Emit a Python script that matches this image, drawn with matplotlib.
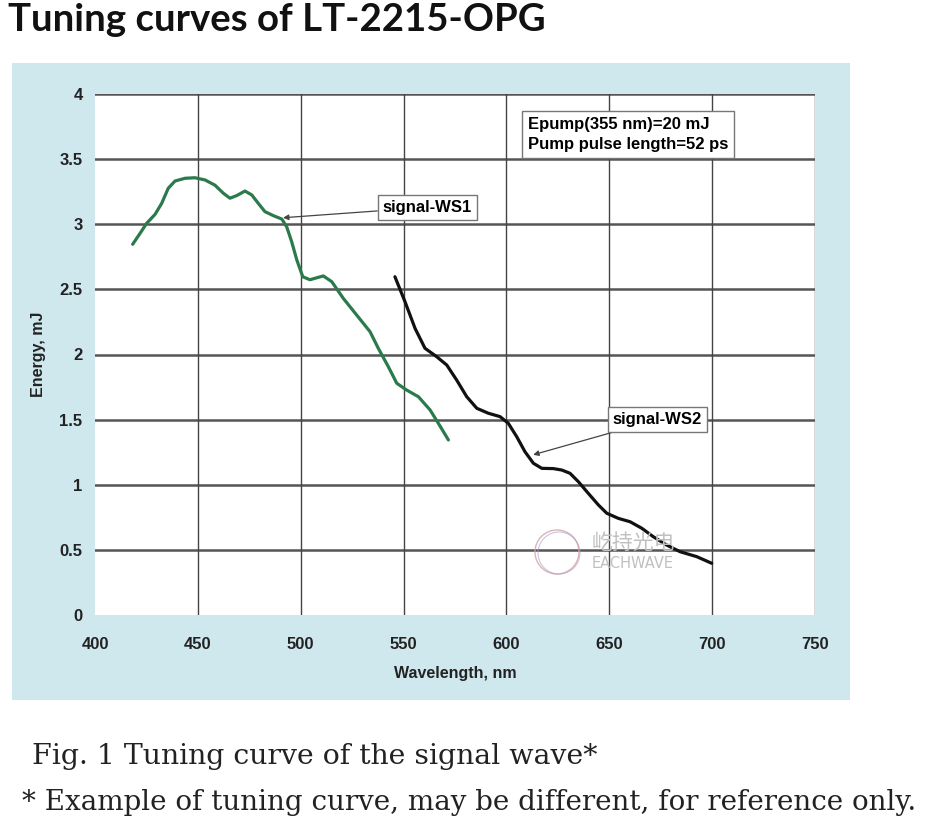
import matplotlib
matplotlib.use("Agg")
import matplotlib.pyplot as plt
from matplotlib.patches import Rectangle, Circle

# ---- data ----
ws1_x = [418.3, 421.9, 425.1, 429.2, 432.4, 435.6, 438.9, 443.8, 448.6, 453.5, 458.3, 462.4, 465.6,
         468.9, 472.9, 476.2, 479.4, 482.6, 486.7, 490.8, 493.2, 495.6, 498.1, 501.0, 504.5, 508.0,
         511.0, 515.1, 520.7, 527.2, 533.7, 537.7, 542.6, 546.7, 551.5, 557.2, 562.9, 566.9, 571.8]
ws1_y = [2.846, 2.93, 3.007, 3.076, 3.16, 3.276, 3.332, 3.353, 3.357, 3.34, 3.30, 3.238, 3.20,
         3.22, 3.255, 3.225, 3.16, 3.097, 3.066, 3.04, 2.98, 2.866, 2.726, 2.597, 2.574, 2.59,
         2.603, 2.559, 2.431, 2.303, 2.175, 2.048, 1.906, 1.779, 1.727, 1.676, 1.574, 1.472, 1.344]
ws2_x = [545.8, 550.7, 555.6, 560.4, 566.1, 571.0, 575.8, 580.7, 585.6, 591.2, 596.9, 600.9, 605.0,
         609.0, 613.1, 617.2, 622.8, 626.9, 630.9, 635.0, 639.8, 644.7, 648.8, 654.4, 660.1, 665.8,
         671.4, 677.9, 684.4, 692.5, 699.8]
ws2_y = [2.597, 2.405, 2.20, 2.048, 1.983, 1.919, 1.804, 1.676, 1.587, 1.549, 1.523, 1.472, 1.369,
         1.254, 1.165, 1.126, 1.124, 1.113, 1.088, 1.023, 0.934, 0.845, 0.781, 0.742, 0.716, 0.666,
         0.601, 0.537, 0.486, 0.448, 0.397]
x_ticks = [400, 450, 500, 550, 600, 650, 700, 750]
y_ticks = [0, 0.5, 1, 1.5, 2, 2.5, 3, 3.5, 4]
y_tick_labels = ["0", "0.5", "1", "1.5", "2", "2.5", "3", "3.5", "4"]

W, H = 938, 824
fig = plt.figure(figsize=(W / 100, H / 100), dpi=100)
fig.patch.set_facecolor("white")

def fx(px):
    return px / W

def fy(py):
    return 1 - py / H

narrow = ["Liberation Sans Narrow", "Liberation Sans", "DejaVu Sans"]

# light blue panel (background axes)
bg = fig.add_axes([0, 0, 1, 1], zorder=0)
bg.set_xlim(0, W)
bg.set_ylim(H, 0)
bg.axis("off")
bg.add_patch(Rectangle((12, 63), 838, 637, facecolor="#cfe8ee", edgecolor="none"))

ax = fig.add_axes([fx(95), fy(615), fx(815) - fx(95), fy(94) - fy(615)], zorder=2)
ax.set_facecolor("white")
ax.set_xlim(400, 750)
ax.set_ylim(0, 4)
ax.set_xticks(x_ticks)
ax.set_yticks(y_ticks)
ax.set_yticklabels(y_tick_labels)
for s in ax.spines.values():
    s.set_visible(False)
ax.tick_params(length=0, labelsize=12)
ax.tick_params(axis="x", pad=15.5)
ax.tick_params(axis="y", pad=9)
for lab in ax.get_xticklabels() + ax.get_yticklabels():
    lab.set_fontfamily(narrow)
    lab.set_fontweight("bold")
    lab.set_color("#222222")
for yv in y_ticks[1:]:
    ax.axhline(yv, color="#555555", lw=1.8, zorder=1)
for xv in x_ticks[1:]:
    ax.axvline(xv, color="#444444", lw=1.0, zorder=1)

ax.set_xlabel("Wavelength, nm", fontsize=11.5, fontweight="bold", family=narrow, labelpad=10.5, color="#222222")
ax.set_ylabel("Energy, mJ", fontsize=11.5, fontweight="bold", family=narrow, labelpad=9.5, color="#222222")

ax.plot(ws1_x, ws1_y, color="#2b7a4b", lw=2.3, zorder=3, solid_capstyle="round", solid_joinstyle="round")
ax.plot(ws2_x, ws2_y, color="#111111", lw=2.3, zorder=3, solid_capstyle="round", solid_joinstyle="round")

box = dict(boxstyle="square,pad=0.3", facecolor="white", edgecolor="#777777", lw=1)
ax.annotate("signal-WS1", xy=(491.4, 3.05), xytext=(561.6, 3.13), ha="center", va="center",
            fontsize=12, fontweight="bold", family=narrow, bbox=box, zorder=4,
            arrowprops=dict(arrowstyle="-|>", color="#444444", lw=0.9, mutation_scale=8, shrinkA=0, shrinkB=0))
ax.annotate("signal-WS2", xy=(613, 1.23), xytext=(673.4, 1.50), ha="center", va="center",
            fontsize=12, fontweight="bold", family=narrow, bbox=box, zorder=4,
            arrowprops=dict(arrowstyle="-|>", color="#444444", lw=0.9, mutation_scale=8, shrinkA=0, shrinkB=0))
ax.text(610.5, 3.69, "Epump(355 nm)=20 mJ\nPump pulse length=52 ps", ha="left", va="center",
        fontsize=12, fontweight="bold", family=narrow, linespacing=1.45, zorder=4,
        bbox=dict(boxstyle="square,pad=0.35", facecolor="white", edgecolor="#777777", lw=1))

# watermark
bg2 = fig.add_axes([0, 0, 1, 1], zorder=3)
bg2.set_xlim(0, W)
bg2.set_ylim(H, 0)
bg2.axis("off")
bg2.add_patch(Circle((557, 552), 22, facecolor="none", edgecolor="#d9a0a0", lw=1, alpha=0.8))
bg2.add_patch(Circle((559, 553), 21, facecolor="none", edgecolor="#a0a0d0", lw=0.8, alpha=0.6))
bg2.text(592, 543, "屹持光电", fontsize=15, color="#c0c0c0", family=["Noto Sans CJK SC"], va="center", ha="left")
bg2.text(592, 564, "EACHWAVE", fontsize=10.5, color="#c0c0c0", family=["DejaVu Sans"], va="center", ha="left")

# title and captions
fig.text(fx(8), fy(20), "Tuning curves of LT-2215-OPG", fontsize=27.6, fontweight="bold",
         family=["Lato", "DejaVu Sans"], va="center", ha="left", color="#111111")
fig.text(fx(32), fy(757), "Fig. 1 Tuning curve of the signal wave*", fontsize=20.4,
         family=["DejaVu Serif"], va="center", ha="left", color="#222222")
fig.text(fx(22), fy(802), "* Example of tuning curve, may be different, for reference only.", fontsize=20.0,
         family=["DejaVu Serif"], va="center", ha="left", color="#222222")

fig.savefig("out.png", dpi=100)
